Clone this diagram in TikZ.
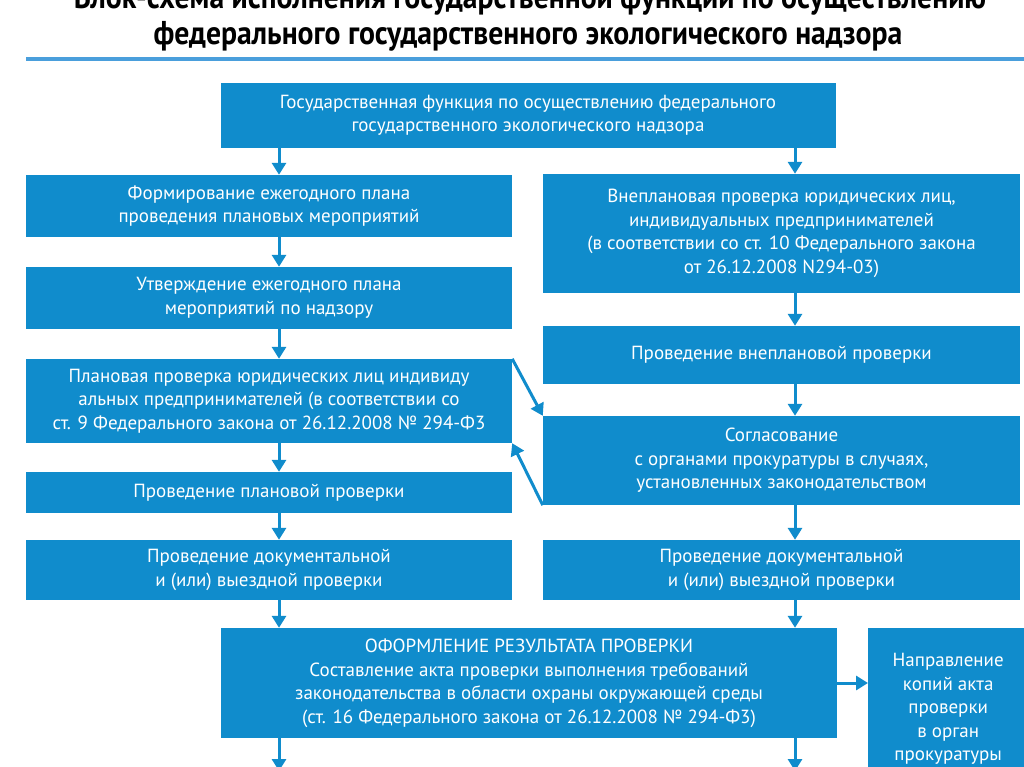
\documentclass[tikz,border=0pt]{standalone}
\usepackage{fontspec}
\setmainfont{PT Sans}
\newfontfamily\titlefont[FakeStretch=0.9]{PT Sans Bold}
\usetikzlibrary{arrows.meta}
\definecolor{boxblue}{RGB}{16,140,204}
\definecolor{lineblue}{RGB}{74,159,220}
\tikzset{
  box/.style={fill=boxblue, draw=none, text=white, align=center, inner sep=0pt,
    font=\fontsize{19}{23.5}\selectfont},
  arr/.style={draw=boxblue, line width=3pt,
    -{Triangle[width=14pt,length=12pt]}},
  ttl/.style={font=\titlefont\fontsize{33}{35}\selectfont, text=black, inner sep=0pt}
}
\begin{document}
\begin{tikzpicture}[x=1pt,y=-1pt]
\useasboundingbox (0,0) rectangle (1024,767);
\fill[white] (0,0) rectangle (1024,767);
% title
\node[ttl, anchor=base] (t1) at (530,9) {Блок-схема исполнения государственной функции по осуществлению};
\node[ttl, anchor=base] (t2) at (528,45) {федерального государственного экологического надзора};
\coordinate (la) at (26,59);
\coordinate (lb) at (1024,59);
\draw[lineblue, line width=4pt] (la) -- (lb);
% boxes
\node[box, minimum width=615pt, minimum height=65pt] (top) at (528,115.5)
 {Государственная функция по осуществлению федерального\\государственного экологического надзора};
\node[box, minimum width=486pt, minimum height=62pt] (L1) at (269,206)
 {Формирование ежегодного плана\\проведения плановых мероприятий};
\node[box, minimum width=486pt, minimum height=62pt] (L2) at (269,298)
 {Утверждение ежегодного плана\\мероприятий по надзору};
\node[box, minimum width=486pt, minimum height=84pt] (L3) at (269,401)
 {Плановая проверка юридических лиц индивиду\\альных предпринимателей (в соответствии со\\ст. 9 Федерального закона от 26.12.2008 № 294-Ф3};
\node[box, minimum width=486pt, minimum height=41pt] (L4) at (269,492.5)
 {Проведение плановой проверки};
\node[box, minimum width=486pt, minimum height=60pt] (L5) at (269,570)
 {Проведение документальной\\и (или) выездной проверки};
\node[box, minimum width=477pt, minimum height=119pt] (R1) at (781.5,233.5)
 {Внеплановая проверка юридических лиц,\\индивидуальных предпринимателей\\(в соответствии со ст. 10 Федерального закона\\от 26.12.2008 N294-03)};
\node[box, minimum width=477pt, minimum height=58pt] (R2) at (781.5,355)
 {Проведение внеплановой проверки};
\node[box, minimum width=477pt, minimum height=89pt] (R3) at (781.5,460.5)
 {Согласование\\с органами прокуратуры в случаях,\\установленных законодательством};
\node[box, minimum width=477pt, minimum height=60pt] (R4) at (781.5,570)
 {Проведение документальной\\и (или) выездной проверки};
\node[box, minimum width=616pt, minimum height=110pt] (B) at (529,683)
 {ОФОРМЛЕНИЕ РЕЗУЛЬТАТА ПРОВЕРКИ\\Составление акта проверки выполнения требований\\законодательства в области охраны окружающей среды\\(ст. 16 Федерального закона от 26.12.2008 № 294-Ф3)};
\node[box, minimum width=160pt, minimum height=162pt, anchor=north west] (S) at (868,628)
 {Направление\\копий акта\\проверки\\в орган\\прокуратуры};
% arrow columns
\coordinate (ax) at (279,0);
\coordinate (bx) at (795,0);
\coordinate (e1) at (279,771);
\coordinate (e2) at (795,771);
\draw[arr] (top.south -| ax) -- (L1.north -| ax);
\draw[arr] (top.south -| bx) -- (R1.north -| bx);
\draw[arr] (L1.south -| ax) -- (L2.north -| ax);
\draw[arr] (L2.south -| ax) -- (L3.north -| ax);
\draw[arr] (L3.south -| ax) -- (L4.north -| ax);
\draw[arr] (L4.south -| ax) -- (L5.north -| ax);
\draw[arr] (L5.south -| ax) -- (B.north -| ax);
\draw[arr] (R1.south -| bx) -- (R2.north -| bx);
\draw[arr] (R2.south -| bx) -- (R3.north -| bx);
\draw[arr] (R3.south -| bx) -- (R4.north -| bx);
\draw[arr] (R4.south -| bx) -- (B.north -| bx);
\draw[arr] (B.south -| ax) -- (e1);
\draw[arr] (B.south -| bx) -- (e2);
\draw[arr] (B.east |- 0,683) -- (S.west |- 0,683);
\draw[arr] (L3.north east) -- (R3.north west);
\draw[arr] (R3.south west) -- (L3.south east);
\end{tikzpicture}
\end{document}
